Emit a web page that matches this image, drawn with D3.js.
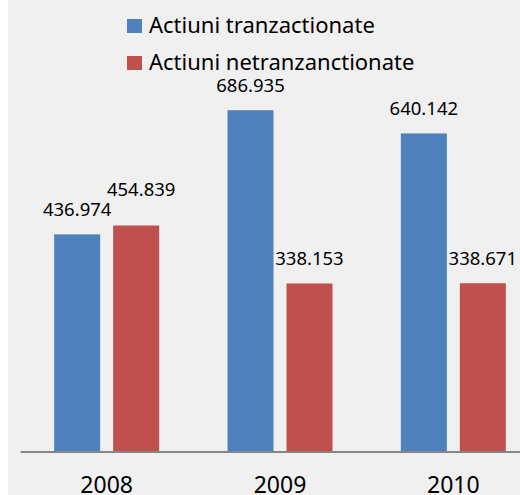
<!DOCTYPE html>
<html>
<head>
<meta charset="utf-8">
<script src="https://cdn.jsdelivr.net/npm/d3@7"></script>
<style>
  html, body { margin: 0; padding: 0; background: #ffffff; }
  svg { display: block; }
</style>
</head>
<body>
<script>
// chart data
var years = ["2008", "2009", "2010"];
var seriesNames = ["Actiuni tranzactionate", "Actiuni netranzanctionate"];
var tranzactionate = [436.974, 686.935, 640.142];
var netranzactionate = [454.839, 338.153, 338.671];
var seriesColors = ["#4f81bd", "#c0504d"];

var width = 520,
    height = 495;

var svg = d3.select("body")
    .append("svg")
    .attr("width", width)
    .attr("height", height);

// chart area background
svg.append("rect")
    .attr("x", 8)
    .attr("y", 0)
    .attr("width", width - 8)
    .attr("height", height)
    .attr("fill", "#f0f0f0");

var baseY = 451.5;

// scales
var x = d3.scaleBand()
    .domain(years)
    .range([20, 540])
    .paddingInner(0)
    .paddingOuter(0);

var bw = x.bandwidth();
var xs = d3.scaleBand()
    .domain([0, 1])
    .range([bw / 2 - 52.5, bw / 2 + 52.5])
    .paddingInner(0.22)
    .paddingOuter(0);

var y = d3.scaleLinear()
    .domain([0, 800])
    .range([baseY, 54]);

var rows = years.map(function(yr, i){
    return {year: yr, values: [tranzactionate[i], netranzactionate[i]]};
});

var labelFont = "'Noto Sans', 'Open Sans', sans-serif";

var groups = svg.append("g").selectAll("g")
    .data(rows)
    .enter()
    .append("g")
    .attr("transform", function(d){ return "translate(" + x(d.year) + ",0)"; });

groups.selectAll("rect")
    .data(function(d){ return d.values; })
    .enter()
    .append("rect")
    .attr("x", function(d, i){ return xs(i); })
    .attr("y", function(d){ return y(d); })
    .attr("width", xs.bandwidth())
    .attr("height", function(d){ return baseY - y(d); })
    .attr("fill", function(d, i){ return seriesColors[i]; });

// value labels, nudging the second one if it collides with the first
groups.each(function(d){
    var g = d3.select(this);
    var pos = d.values.map(function(v, i){
        return {v: v, x: xs(i) + xs.bandwidth() / 2, y: y(v) - 18};
    });
    var a = pos[0], b = pos[1];
    if (Math.abs(a.y - b.y) < 20 && Math.abs(a.x - b.x) < 68) {
        b.y = a.y - 20;
        b.x += 5;
    }
    g.selectAll("text.val")
        .data(pos)
        .enter()
        .append("text")
        .attr("class", "val")
        .attr("x", function(p){ return p.x; })
        .attr("y", function(p){ return p.y; })
        .attr("text-anchor", "middle")
        .attr("font-family", labelFont)
        .attr("font-size", "18.5px")
        .attr("fill", "#000")
        .text(function(p){ return d3.format(".3f")(p.v); });
});

// x axis
var xAxis = svg.append("g")
    .attr("transform", "translate(0," + baseY + ")")
    .call(d3.axisBottom(x).tickSize(0).tickSizeOuter(0));

xAxis.select(".domain")
    .attr("stroke", "#868686")
    .attr("stroke-width", 2);

xAxis.selectAll("text")
    .attr("y", 41)
    .attr("dy", null)
    .attr("font-family", labelFont)
    .attr("font-size", "23px")
    .attr("fill", "#000");

// legend
var legend = svg.append("g")
    .selectAll("g")
    .data(seriesNames)
    .enter()
    .append("g")
    .attr("transform", function(d, i){ return "translate(127," + (19 + i * 37) + ")"; });

legend.append("rect")
    .attr("width", 15)
    .attr("height", 14)
    .attr("fill", function(d, i){ return seriesColors[i]; });

legend.append("text")
    .attr("x", 22)
    .attr("y", 14)
    .attr("font-family", labelFont)
    .attr("font-size", "22px")
    .attr("fill", "#000")
    .text(function(d){ return d; });
</script>
</body>
</html>
